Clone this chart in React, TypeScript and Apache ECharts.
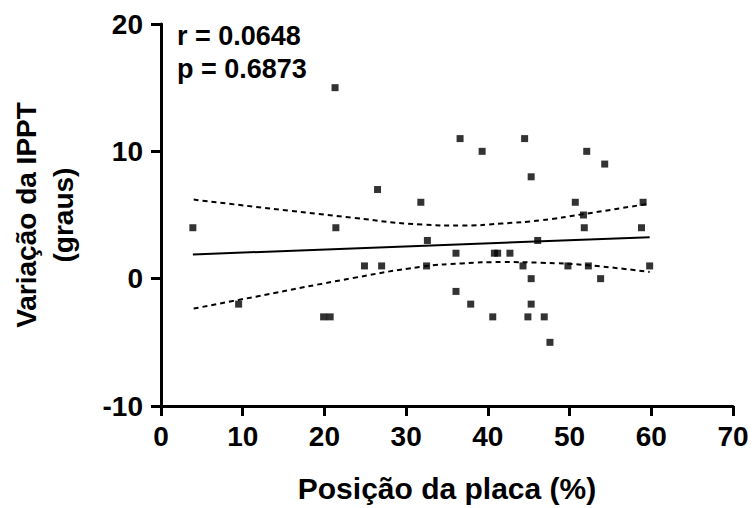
import React, { useEffect, useRef } from "react";
import * as echarts from "echarts";

const pointX = [3.9, 9.5, 19.9, 20.7, 21.3, 21.4, 24.9, 26.5, 27.0, 31.8, 32.5, 32.6, 36.1, 36.1, 36.6, 37.9, 39.3, 40.6, 40.8, 41.2, 42.7, 44.3, 44.5, 44.9, 45.3, 45.3, 45.3, 46.1, 46.9, 47.6, 49.8, 50.7, 51.7, 51.8, 52.1, 52.3, 53.8, 54.3, 58.8, 59.0, 59.8];
const pointY = [4, -2, -3, -3, 15, 4, 1, 7, 1, 6, 1, 3, 2, -1, 11, -2, 10, -3, 2, 2, 2, 1, 11, -3, 8, 0, -2, 3, -3, -5, 1, 6, 5, 4, 10, 1, 0, 9, 4, 6, 1];

const fitX = [3.9, 59.8];
const fitY = [1.9, 3.25];

const upperX = [4.0, 23.5, 32.0, 36.8, 41.7, 46.5, 51.6, 59.8];
const upperY = [6.21, 4.78, 4.25, 4.17, 4.33, 4.59, 5.06, 5.9];

const lowerX = [4.0, 9.5, 23.5, 32.0, 36.8, 41.7, 46.5, 52.2, 59.8];
const lowerY = [-2.35, -1.67, 0.05, 0.95, 1.2, 1.3, 1.25, 1.06, 0.52];

const statLines = ["r = 0.0648", "p = 0.6873"];
const xTitle = "Posição da placa (%)";
const yTitle = "Variação da IPPT\n(graus)";

const FONT = "'Liberation Sans', Arial, Helvetica, sans-serif";

const zip = (xs: number[], ys: number[]) => xs.map((x, i) => [x, ys[i]]);

export default function App() {
  const ref = useRef<HTMLDivElement>(null);
  useEffect(() => {
    if (!ref.current) return;
    const chart = echarts.init(ref.current, undefined, { renderer: "svg" });
    const axisCommon = {
      axisLine: { show: true, onZero: false, lineStyle: { color: "#000", width: 3 } },
      axisTick: { show: true, inside: false, length: 10, lineStyle: { color: "#000", width: 3 } },
      splitLine: { show: false },
    };
    chart.setOption({
      animation: false,
      backgroundColor: "#fff",
      grid: { left: 156, right: 21, top: 24, bottom: 101, containLabel: false },
      xAxis: {
        type: "value",
        min: 0,
        max: 70,
        interval: 10,
        ...axisCommon,
        axisLabel: { color: "#000", fontSize: 28, fontWeight: "bold", fontFamily: FONT, margin: 16 },
        name: xTitle,
        nameLocation: "middle",
        nameGap: 67,
        nameTextStyle: { color: "#000", fontSize: 30, fontWeight: "bold", fontFamily: FONT },
      },
      yAxis: {
        type: "value",
        min: -10,
        max: 20,
        interval: 10,
        ...axisCommon,
        axisLabel: { color: "#000", fontSize: 28, fontWeight: "bold", fontFamily: FONT, margin: 18 },
        name: yTitle,
        nameLocation: "middle",
        nameGap: 79,
        nameRotate: 90,
        nameTextStyle: { color: "#000", fontSize: 28, fontWeight: "bold", fontFamily: FONT, lineHeight: 37 },
      },
      graphic: [
        {
          type: "text",
          left: 177,
          top: 19,
          style: {
            text: statLines.join("\n"),
            fill: "#000",
            font: `bold 27px ${FONT}`,
            lineHeight: 33,
          },
        },
      ],
      series: [
        {
          type: "scatter",
          data: zip(pointX, pointY),
          symbol: "rect",
          symbolSize: 7,
          itemStyle: { color: "#000" },
          z: 5,
        },
        {
          type: "line",
          data: zip(fitX, fitY),
          showSymbol: false,
          symbol: "none",
          lineStyle: { color: "#000", width: 2 },
        },
        {
          type: "line",
          data: zip(upperX, upperY),
          smooth: true,
          symbol: "none",
          lineStyle: { color: "#000", width: 2, type: [5, 4] },
        },
        {
          type: "line",
          data: zip(lowerX, lowerY),
          smooth: true,
          symbol: "none",
          lineStyle: { color: "#000", width: 2, type: [5, 4] },
        },
      ],
    });
    return () => chart.dispose();
  }, []);
  return <div ref={ref} style={{ width: 754, height: 508, position: "absolute", left: 0, top: 0 }} />;
}
